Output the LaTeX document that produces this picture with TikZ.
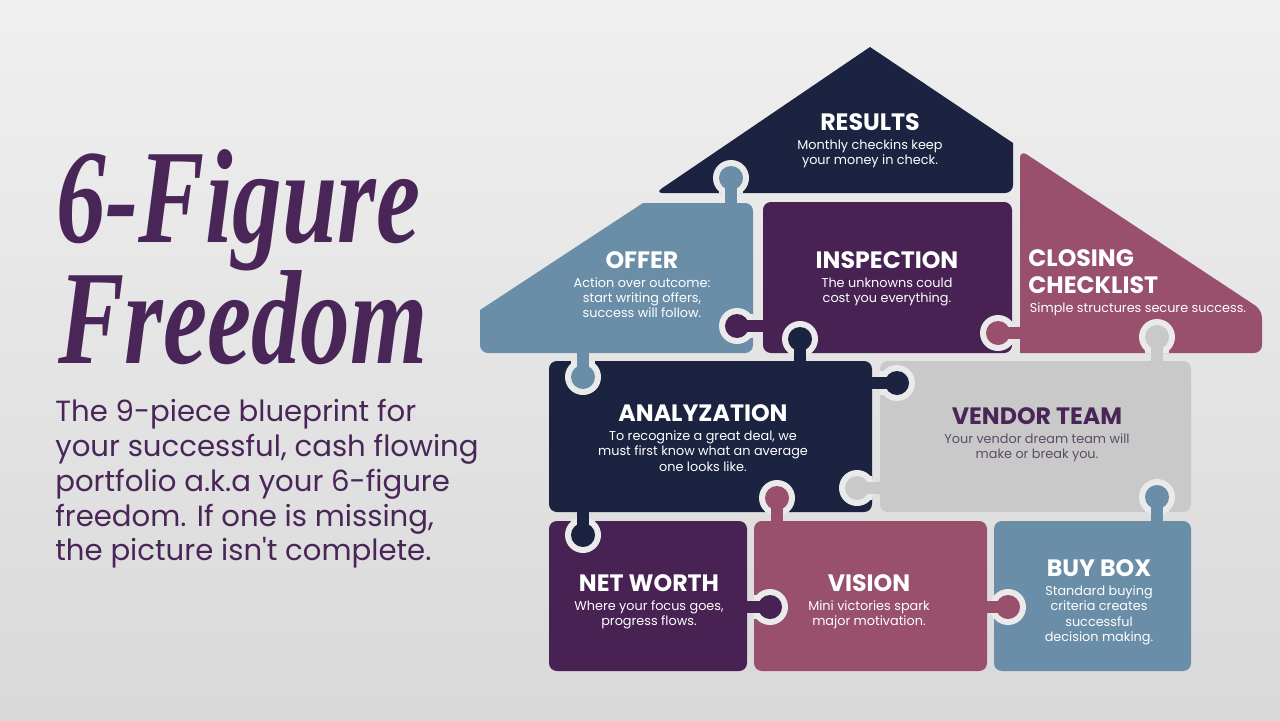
\documentclass[tikz,border=0pt]{standalone}
\usepackage{fontspec}
\setmainfont{Poppins}[Ligatures=TeXOff]
\newfontfamily\brushfont{Liberation Serif}
\usetikzlibrary{positioning}
\definecolor{navy}{RGB}{27,35,64}
\definecolor{steel}{RGB}{107,142,168}
\definecolor{plum}{RGB}{71,34,83}
\definecolor{mauve}{RGB}{152,80,108}
\definecolor{silver}{RGB}{201,201,201}
\definecolor{gapc}{RGB}{234,234,234}
\definecolor{titlepurple}{RGB}{74,38,88}
\definecolor{vendorbody}{RGB}{92,76,100}

% knob with vertical neck: colour, centre x, centre y, neck end in owner piece, edge of host piece
\newcommand{\vknob}[5]{%
  \fill[gapc] (#2,#3) circle (18);
  \fill[gapc] (#2-12,#3) rectangle (#2+12,#5);
  \fill[#1] (#2,#3) circle (12);
  \fill[#1] (#2-6,#3) rectangle (#2+6,#4);
}
% same with horizontal neck
\newcommand{\hknob}[5]{%
  \fill[gapc] (#2,#3) circle (18);
  \fill[gapc] (#2,#3-12) rectangle (#5,#3+12);
  \fill[#1] (#2,#3) circle (12);
  \fill[#1] (#2,#3-6) rectangle (#4,#3+6);
}

\begin{document}
\begin{tikzpicture}[
  x=0.02cm, y=-0.02cm,
  head/.style={font=\bfseries\fontsize{13.5}{15}\selectfont, text=white, inner sep=0pt},
  body/.style={font=\fontsize{7.3}{8.6}\selectfont, text=white, align=center, inner sep=0pt},
  piece/.style={rounded corners=4.5pt}
]
% background
\shade[top color=gray!12, middle color=gray!4, bottom color=gray!30] (0,0) rectangle (1280,720);
\useasboundingbox (0,0) rectangle (1280,720);

% pieces
\fill[navy] (655,193) -- (870,47) -- (1013,143) [rounded corners=4.5pt] -- (1013,193) -- cycle;
\fill[steel] (480,353) -- (480,310) -- (643,203) [rounded corners=4.5pt] -- (753,203) -- (753,353) -- cycle;
\fill[plum, piece] (763,202) rectangle (1012,353);
\fill[mauve] (1262,353) -- (1020,353) [rounded corners=4.5pt] -- (1020,150) -- (1262,310) -- cycle;
\fill[navy, piece] (549,361) rectangle (872,512);
\fill[silver, piece] (880,361) rectangle (1191,512);
\fill[plum, piece] (549,521) rectangle (747,671);
\fill[mauve, piece] (754,521) rectangle (987,671);
\fill[steel, piece] (994,521) rectangle (1191,671);

% knobs
\vknob{steel}{731}{178}{206}{193}
\hknob{plum}{737}{326}{766}{753}
\vknob{navy}{800}{339}{364}{353}
\hknob{mauve}{998}{333}{1023}{1012}
\vknob{steel}{583}{377}{350}{361}
\vknob{silver}{1157}{337}{364}{353}
\hknob{navy}{897}{383}{869}{880}
\hknob{silver}{857}{488}{883}{872}
\vknob{navy}{583}{535}{509}{521}
\vknob{mauve}{777}{498}{524}{512}
\vknob{steel}{1157}{497}{524}{512}
\hknob{plum}{770}{607}{744}{754}
\hknob{mauve}{1008}{607}{984}{994}

% texts
\node[head] (results) at (870,122) {RESULTS};
\node[body, below=5pt of results] (resultsbody) {Monthly checkins keep\\your money in check.};
\node[head] (offer) at (642,260) {OFFER};
\node[body, below=5pt of offer] (offerbody) {Action over outcome:\\start writing offers,\\success will follow.};
\node[head] (inspection) at (887,260) {INSPECTION};
\node[body, below=5pt of inspection] (inspectionbody) {The unknowns could\\cost you everything.};
\node[head, align=left, anchor=west, font=\bfseries\fontsize{13.5}{15.5}\selectfont] (closing) at (1028,272) {CLOSING\\CHECKLIST};
\node[body] (closingbody) at (1138,309) {Simple structures secure success.};
\node[head] (analyzation) at (703,413) {ANALYZATION};
\node[body, below=5pt of analyzation] (analyzationbody) {To recognize a great deal, we\\must first know what an average\\one looks like.};
\node[head, text=titlepurple] (vendor) at (1037,416) {VENDOR TEAM};
\node[body, text=vendorbody, below=5pt of vendor] (vendorbody) {Your vendor dream team will\\make or break you.};
\node[head] (networth) at (649,583) {NET WORTH};
\node[body, below=5pt of networth] (networthbody) {Where your focus goes,\\progress flows.};
\node[head] (vision) at (869,583) {VISION};
\node[body, below=5pt of vision] (visionbody) {Mini victories spark\\major motivation.};
\node[head] (buybox) at (1099,568) {BUY BOX};
\node[body, below=5pt of buybox] (buyboxbody) {Standard buying\\criteria creates\\successful\\decision making.};

% title and blurb
\node[font=\brushfont\bfseries\itshape\fontsize{56.5}{60}\selectfont, text=titlepurple, anchor=west] (title) at (50,210) {\scalebox{1}[1.35]{6-Figure}};
\node[font=\brushfont\bfseries\itshape\fontsize{56.5}{60}\selectfont, text=titlepurple, anchor=west] (freedom) at (52,318) {\scalebox{1}[1.35]{Freedom}};
\node[font=\fontsize{16.6}{19.8}\selectfont, text=titlepurple, align=left, anchor=north west, inner sep=0pt] (blurb) at (55,399)
  {The 9-piece blueprint for\\your successful, cash flowing\\portfolio a.k.a your 6-figure\\freedom. If one is missing,\\the picture isn't complete.};
\end{tikzpicture}
\end{document}
